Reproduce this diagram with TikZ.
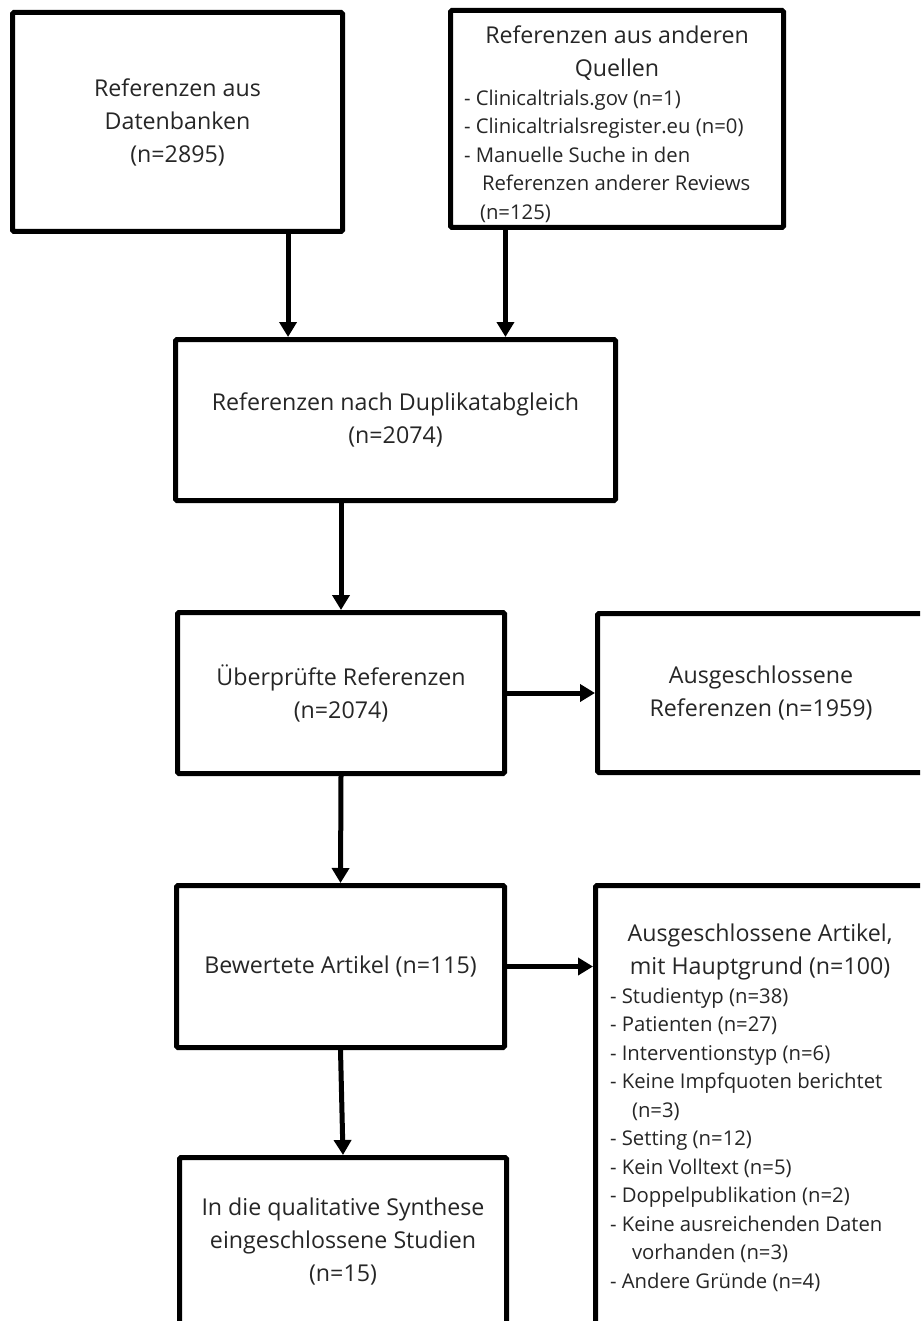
\documentclass[tikz,border=0pt]{standalone}
\usepackage{fontspec}
\setmainfont{Open Sans}
\usetikzlibrary{arrows.meta,calc}
\newcommand{\hdfont}{\fontsize{23.2}{33}\selectfont}
\newcommand{\lifont}{\fontsize{20.3}{28.5}\selectfont}
\begin{document}
\begin{tikzpicture}[x=1pt,y=-1pt,
  box/.style={draw, line width=5pt, rounded corners=1.5pt, inner sep=0pt, align=center, font=\hdfont, text=black!85},
  conn/.style={line width=5pt, -{Triangle[length=15pt,width=17pt]}}]
\useasboundingbox (0,0) rectangle (920,1321);
\clip (0,0) rectangle (920,1321);
\fill[white] (0,0) rectangle (920,1321);

\node[box, minimum width=330pt, minimum height=219pt] (b1) at (177.5,122) {Referenzen aus\\Datenbanken\\(n=2895)};
\node[box, minimum width=333pt, minimum height=217pt] (b2) at (617,119) {%
  \begin{minipage}{306pt}\vspace*{10pt}\centering\hdfont Referenzen aus anderen\\Quellen\par
  \raggedright\lifont
  - Clinicaltrials.gov (n=1)\\
  - Clinicaltrialsregister.eu (n=0)\\
  - Manuelle Suche in den\\
  \hspace*{18pt}Referenzen anderer Reviews\\
  \hspace*{16pt}(n=125)\par\end{minipage}};
\node[box, minimum width=440pt, minimum height=161pt] (b3) at (395.5,420) {Referenzen nach Duplikatabgleich\\(n=2074)};
\node[box, minimum width=327pt, minimum height=161pt] (b4) at (341,693) {Überprüfte Referenzen\\(n=2074)};
\node[box, minimum width=327pt, minimum height=159pt] (b5) at (761,693) {Ausgeschlossene\\Referenzen (n=1959)};
\node[box, minimum width=328pt, minimum height=162pt] (b6) at (340.5,966.5) {Bewertete Artikel (n=115)};
\node[box, minimum width=329pt, minimum height=441pt] (b7) at (760,1106) {%
  \begin{minipage}{300pt}\vspace*{4pt}\centering\hdfont Ausgeschlossene Artikel,\\mit Hauptgrund (n=100)\par
  \raggedright\lifont
  - Studientyp (n=38)\\
  - Patienten (n=27)\\
  - Interventionstyp (n=6)\\
  - Keine Impfquoten berichtet\\
  \hspace*{22pt}(n=3)\\
  - Setting (n=12)\\
  - Kein Volltext (n=5)\\
  - Doppelpublikation (n=2)\\
  - Keine ausreichenden Daten\\
  \hspace*{22pt}vorhanden (n=3)\\
  - Andere Gründe (n=4)\par\end{minipage}};
\node[box, minimum width=327pt, minimum height=169pt] (b8) at (343,1242) {In die qualitative Synthese\\eingeschlossene Studien\\(n=15)};

\coordinate (s1) at ($(b1.south west)!0.83!(b1.south east)$);
\coordinate (s2) at ($(b2.south west)!0.17!(b2.south east)$);
\draw[conn] (s1) -- (s1 |- b3.north);
\draw[conn] (s2) -- (s2 |- b3.north);
\draw[conn] (b3.south -| b4.north) -- (b4.north);
\draw[conn] (b4.east) -- (b5.west);
\draw[conn] (b4.south) -- (b6.north);
\draw[conn] (b6.east) -- (b7.west |- b6.east);
\draw[conn] (b6.south) -- (b8.north);
\end{tikzpicture}
\end{document}
